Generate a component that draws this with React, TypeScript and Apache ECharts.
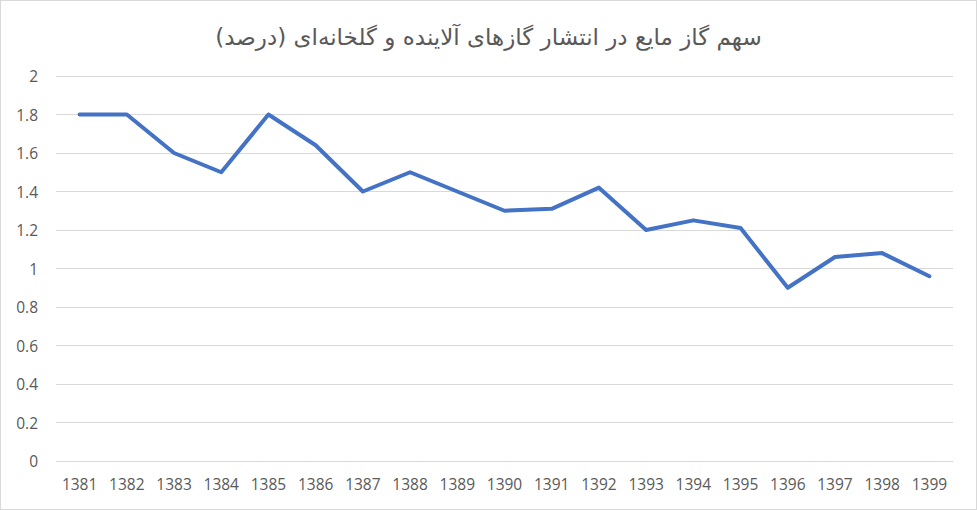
import { useRef, useEffect } from "react";
import * as echarts from "echarts";

const years = [
  "1381", "1382", "1383", "1384", "1385", "1386", "1387", "1388", "1389", "1390",
  "1391", "1392", "1393", "1394", "1395", "1396", "1397", "1398", "1399",
];
const lpgShare = [
  1.8, 1.8, 1.6, 1.5, 1.8, 1.64, 1.4, 1.5, 1.4, 1.3,
  1.31, 1.42, 1.2, 1.25, 1.21, 0.9, 1.06, 1.08, 0.96,
];
const chartTitle = "سهم گاز مایع در انتشار گازهای آلاینده و گلخانه‌ای (درصد)";

export default function App() {
  const chartRef = useRef<HTMLDivElement>(null);

  useEffect(() => {
    if (!chartRef.current) return;
    const chart = echarts.init(chartRef.current, undefined, { renderer: "svg" });
    chart.setOption({
      animation: false,
      backgroundColor: "transparent",
      title: {
        text: chartTitle,
        left: "center",
        top: 20,
        textStyle: { fontFamily: "DejaVu Sans, sans-serif", fontSize: 23, fontWeight: "normal", color: "#595959" },
      },
      grid: { left: 56, right: 24, top: 76, bottom: 49 },
      xAxis: {
        type: "category",
        data: years,
        boundaryGap: true,
        axisLine: { show: false },
        axisTick: { show: false },
        axisLabel: { color: "#595959", fontSize: 15.5, fontFamily: "Open Sans, sans-serif", margin: 15 },
      },
      yAxis: {
        type: "value",
        min: 0,
        max: 2,
        interval: 0.2,
        axisLine: { show: false },
        axisTick: { show: false },
        axisLabel: { color: "#595959", fontSize: 15.5, fontFamily: "Open Sans, sans-serif", margin: 18 },
        splitLine: { lineStyle: { color: "#d9d9d9", width: 1 } },
      },
      series: [
        {
          type: "line",
          data: lpgShare,
          symbol: "none",
          lineStyle: { color: "#4472c4", width: 4, cap: "round", join: "round" },
        },
      ],
    });
    return () => chart.dispose();
  }, []);

  return (
    <div
      style={{
        position: "absolute",
        left: 0,
        top: 0,
        width: 977,
        height: 510,
        boxSizing: "border-box",
        border: "1px solid #d9d9d9",
        background: "#fff",
      }}
    >
      <div ref={chartRef} style={{ position: "absolute", left: -1, top: -1, width: 977, height: 510 }} />
    </div>
  );
}
